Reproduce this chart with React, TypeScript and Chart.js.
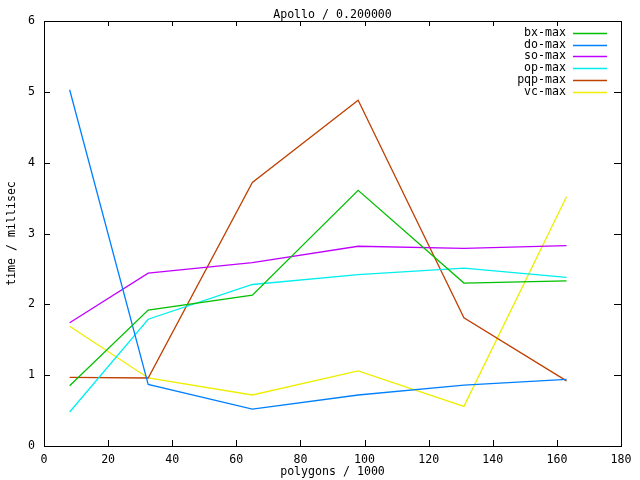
import React, { useEffect, useRef } from "react";
import { Chart, registerables } from "chart.js";

Chart.register(...registerables);

const chartTitle = "Apollo / 0.200000";
const xTitle = "polygons / 1000";
const yTitle = "time / millisec";

const polygons = [8, 32.5, 65, 98, 131, 163];

const seriesNames = ["bx-max", "do-max", "so-max", "op-max", "pqp-max", "vc-max"];
const seriesColors = ["#00c000", "#0080ff", "#c000ff", "#00eeee", "#c04000", "#eeee00"];

const bxMax = [0.85, 1.92, 2.13, 3.61, 2.3, 2.33];
const doMax = [5.03, 0.87, 0.52, 0.72, 0.86, 0.94];
const soMax = [1.74, 2.44, 2.59, 2.82, 2.79, 2.83];
const opMax = [0.48, 1.79, 2.28, 2.42, 2.51, 2.38];
const pqpMax = [0.97, 0.96, 3.72, 4.88, 1.81, 0.92];
const vcMax = [1.69, 0.96, 0.72, 1.06, 0.56, 3.52];

const seriesValues = [bxMax, doMax, soMax, opMax, pqpMax, vcMax];

const xMin = 0;
const xMax = 180;
const xStep = 20;
const yMin = 0;
const yMax = 6;
const yStep = 1;

const FONT = "'DejaVu Sans Mono', monospace";
const FONT_SIZE = 11.6;

const framePlugin = {
  id: "gnuplotFrame",
  afterDraw(chart: any) {
    const { ctx, chartArea } = chart;
    const { left, right, top, bottom } = chartArea;
    const xs = chart.scales.x;
    const ys = chart.scales.y;
    ctx.save();
    ctx.strokeStyle = "#000";
    ctx.lineWidth = 1;
    ctx.strokeRect(Math.round(left) + 0.5, Math.round(top) + 0.5, Math.round(right - left), Math.round(bottom - top));
    ctx.beginPath();
    const tl = 6;
    for (let v = xMin; v <= xMax; v += xStep) {
      const px = Math.round(xs.getPixelForValue(v)) + 0.5;
      ctx.moveTo(px, bottom);
      ctx.lineTo(px, bottom - tl);
      ctx.moveTo(px, top);
      ctx.lineTo(px, top + tl - 1);
    }
    for (let v = yMin; v <= yMax; v += yStep) {
      const py = Math.round(ys.getPixelForValue(v)) + 0.5;
      ctx.moveTo(left, py);
      ctx.lineTo(left + tl, py);
      ctx.moveTo(right, py);
      ctx.lineTo(right - tl - 1, py);
    }
    ctx.stroke();

    ctx.fillStyle = "#000";
    ctx.font = `${FONT_SIZE}px ${FONT}`;
    ctx.textAlign = "center";
    ctx.textBaseline = "middle";
    ctx.fillText(chartTitle, (left + right) / 2, 15);
    ctx.fillText(xTitle, (left + right) / 2, 472);
    ctx.save();
    ctx.translate(12, (top + bottom) / 2);
    ctx.rotate(-Math.PI / 2);
    ctx.fillText(yTitle, 0, 0);
    ctx.restore();

    const textRight = 566;
    const lineX1 = 573;
    const lineX2 = 607;
    const rowTop = 33;
    const rowH = 11.7;
    seriesNames.forEach((name, i) => {
      const y = rowTop + i * rowH;
      ctx.textAlign = "right";
      ctx.textBaseline = "middle";
      ctx.fillStyle = "#000";
      ctx.fillText(name, textRight, y);
      ctx.strokeStyle = seriesColors[i];
      ctx.lineWidth = 1.3;
      ctx.beginPath();
      ctx.moveTo(lineX1, Math.round(y) + 0.5);
      ctx.lineTo(lineX2, Math.round(y) + 0.5);
      ctx.stroke();
    });
    ctx.restore();
  },
};

export default function App() {
  const canvasRef = useRef<HTMLCanvasElement | null>(null);

  useEffect(() => {
    document.body.style.margin = "0";
    const canvas = canvasRef.current;
    if (!canvas) return;
    const chart = new Chart(canvas, {
      type: "line",
      data: {
        datasets: seriesNames.map((name, i) => ({
          label: name,
          data: polygons.map((x, j) => ({ x, y: seriesValues[i][j] })),
          borderColor: seriesColors[i],
          backgroundColor: seriesColors[i],
          borderWidth: 1.3,
          pointRadius: 0,
          tension: 0,
          fill: false,
        })),
      },
      options: {
        animation: false,
        responsive: false,
        devicePixelRatio: 1,
        layout: { padding: { top: 21, right: 19, left: 0, bottom: 0 } },
        plugins: {
          legend: { display: false },
          title: { display: false },
          tooltip: { enabled: false },
        },
        scales: {
          x: {
            type: "linear",
            min: xMin,
            max: xMax,
            grid: { display: false, drawTicks: false },
            border: { display: false },
            ticks: {
              stepSize: xStep,
              padding: 7,
              maxRotation: 0,
              color: "#000",
              font: { family: FONT, size: FONT_SIZE },
            },
            afterFit: (scale: any) => {
              scale.height = 34;
            },
          },
          y: {
            type: "linear",
            min: yMin,
            max: yMax,
            grid: { display: false, drawTicks: false },
            border: { display: false },
            ticks: {
              stepSize: yStep,
              padding: 9,
              color: "#000",
              font: { family: FONT, size: FONT_SIZE },
            },
            afterFit: (scale: any) => {
              scale.width = 44;
            },
          },
        },
      },
      plugins: [framePlugin],
    });
    return () => chart.destroy();
  }, []);

  return (
    <div style={{ position: "absolute", left: 0, top: 0, width: 640, height: 480, background: "#fff" }}>
      <canvas ref={canvasRef} width={640} height={480} />
    </div>
  );
}
